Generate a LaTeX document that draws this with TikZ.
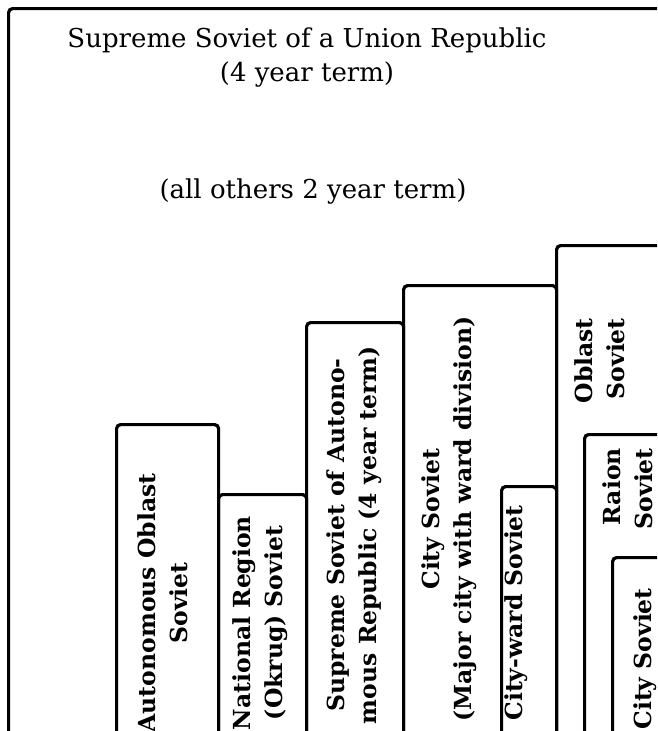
\documentclass[tikz,border=0pt]{standalone}
\usepackage{fontspec}
\setmainfont{DejaVu Serif}
\begin{document}
\begin{tikzpicture}[x=1pt,y=-1pt,
  soviet/.style={draw,line width=3.2pt,rounded corners=4pt,anchor=north west,
    inner sep=0pt,minimum height=520pt},
  sidetext/.style={rotate=90,align=center,inner sep=0pt,
    font=\bfseries\fontsize{23.5}{32}\selectfont}]
  \useasboundingbox (0,0) rectangle (657,731);
  \clip (0,0) rectangle (657,731);
  % outer frame and its texts
  \node (union)  at (7,7)     [soviet,minimum width=720pt,minimum height=760pt] {};
  \node (title)  at (307,58)  [align=center,font=\fontsize{26}{34}\selectfont]
    {Supreme Soviet of a Union Republic\\(4 year term)};
  \node (others) at (313,192) [font=\fontsize{26}{34}\selectfont] {(all others 2 year term)};
  % the staircase of lower soviets
  \node (ao)     at (115,423) [soviet,minimum width=102pt] {};
  \node (okrug)  at (217,493) [soviet,minimum width=88pt] {};
  \node (asr)    at (305,321) [soviet,minimum width=97pt] {};
  \node (city)   at (402,284) [soviet,minimum width=153pt] {};
  \node (ward)   at (500,485) [soviet,minimum width=55pt] {};
  \node (oblast) at (555,244) [soviet,minimum width=200pt] {};
  \node (raion)  at (583,433) [soviet,minimum width=200pt] {};
  \node (town)   at (611,556) [soviet,minimum width=200pt] {};
  % texts standing on end
  \node (aotext)     at (163,603) [sidetext] {Autonomous Oblast\\Soviet};
  \node (okrugtext)  at (260,623) [sidetext] {National Region\\(Okrug) Soviet};
  \node (asrtext)    at (354,535) [sidetext] {Supreme Soviet of Autono-\\mous Republic (4 year term)};
  \node (citytext)   at (449,519) [sidetext] {City Soviet\\(Major city with ward division)};
  \node (wardtext)   at (516,505) [sidetext,anchor=east] {City-ward Soviet};
  \node (oblasttext) at (600,318) [sidetext,anchor=east,align=right] {Oblast\\Soviet};
  \node (raiontext)  at (628,448) [sidetext,anchor=east,align=right] {Raion\\Soviet};
  \node (towntext)   at (645,588) [sidetext,anchor=east] {City Soviet};
\end{tikzpicture}
\end{document}
